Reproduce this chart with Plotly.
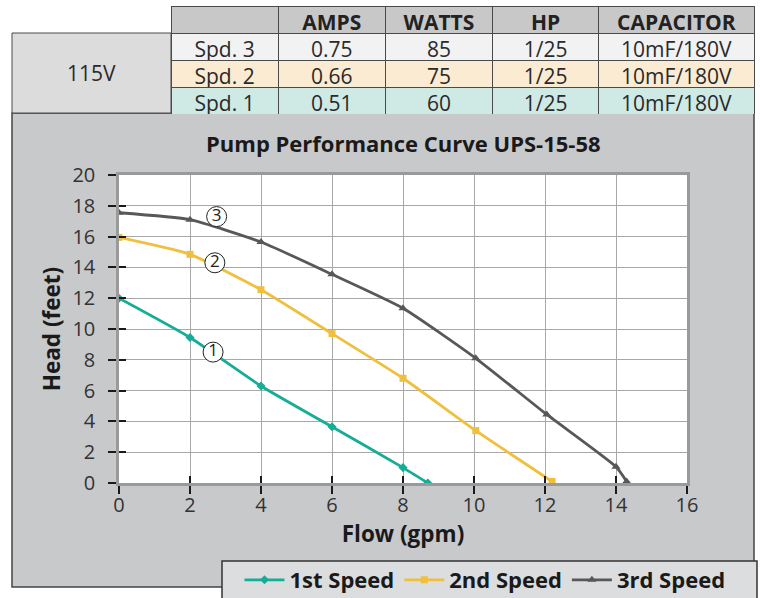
import plotly.graph_objects as go

W, H = 760, 598

# ---- data ----
table_header = ["", "AMPS", "WATTS", "HP", "CAPACITOR"]
speeds = ["Spd. 3", "Spd. 2", "Spd. 1"]
amps = ["0.75", "0.66", "0.51"]
watts = ["85", "75", "60"]
hp = ["1/25", "1/25", "1/25"]
capacitor = ["10mF/180V", "10mF/180V", "10mF/180V"]
voltage = "115V"

flow1 = [0, 2, 4, 6, 8, 8.7]
head1 = [12.0, 9.45, 6.3, 3.65, 1.0, 0.0]
flow2 = [0, 2, 4, 6, 8, 10.05, 12.2]
head2 = [15.95, 14.85, 12.55, 9.7, 6.8, 3.4, 0.1]
flow3 = [0, 2, 4, 6, 8, 10.05, 12.05, 14.0, 14.3]
head3 = [17.55, 17.1, 15.65, 13.55, 11.35, 8.1, 4.45, 1.05, 0.1]

curve_labels = ["1", "2", "3"]
label_x = [2.65, 2.7, 2.75]
label_y = [8.5, 14.3, 17.3]

x_ticks = [0, 2, 4, 6, 8, 10, 12, 14, 16]
y_ticks = [0, 2, 4, 6, 8, 10, 12, 14, 16, 18, 20]

# ---- helpers ----
def px(x):
    return x / W

def py(y):
    return 1 - y / H

FONT = "Open Sans"
c1, c2, c3 = "#16ad96", "#efbf3d", "#58585a"

fig = go.Figure()

fig.add_trace(go.Scatter(x=flow1, y=head1, name="1st Speed", mode="lines+markers",
                         line=dict(color=c1, width=2.8, shape="spline", smoothing=0.5),
                         marker=dict(symbol="diamond", size=7, color=c1)))
fig.add_trace(go.Scatter(x=flow2, y=head2, name="2nd Speed", mode="lines+markers",
                         line=dict(color=c2, width=2.8, shape="spline", smoothing=0.5),
                         marker=dict(symbol="square", size=7, color=c2)))
fig.add_trace(go.Scatter(x=flow3, y=head3, name="3rd Speed", mode="lines+markers",
                         line=dict(color=c3, width=2.8, shape="spline", smoothing=0.5),
                         marker=dict(symbol="triangle-up", size=8, color=c3)))

# circled curve labels, drawn on the overlay axes (which carry the inner tick halves)
fig.add_trace(go.Scatter(x=label_x, y=label_y, text=curve_labels, mode="markers+text",
                         xaxis="x2", yaxis="y2",
                         showlegend=False, hoverinfo="skip",
                         marker=dict(symbol="circle", size=20, color="white",
                                     line=dict(color="#222", width=1)),
                         textposition="middle center",
                         textfont=dict(family=FONT, size=17, color="#222")))

# table
cols = [speeds, amps, watts, hp, capacitor]
row_fill = ["#f2f2f2", "#fcebd3", "#cfe9e5"]
fig.add_trace(go.Table(
    domain=dict(x=[px(171), px(754)], y=[py(114), py(6)]),
    columnwidth=[107, 107, 107, 106, 155],
    header=dict(values=table_header, fill_color="#c8c8c8", height=27,
                line=dict(color="#4a4a4a", width=1), align="center",
                font=dict(family=FONT, size=21, color="#222", weight="bold")),
    cells=dict(values=cols, fill_color=[row_fill] * 5, height=27,
               line=dict(color="#4a4a4a", width=1), align="center",
               font=dict(family=FONT, size=21, color="#2a2a2a")),
))

shapes = [
    dict(type="rect", xref="paper", yref="paper", x0=px(12), x1=px(754), y0=py(587), y1=py(113),
         fillcolor="#c8c9cb", line=dict(color="#444", width=1.5), layer="below"),
    dict(type="rect", xref="paper", yref="paper", x0=px(12), x1=px(171), y0=py(113), y1=py(33),
         fillcolor="#dcdcdd", line=dict(color="#4a4a4a", width=1), layer="below"),
    dict(type="rect", xref="x domain", yref="y domain", x0=0, x1=1, y0=0, y1=1,
         fillcolor="white", line=dict(width=0), layer="below"),
    dict(type="rect", xref="paper", yref="paper", x0=px(222), x1=px(757), y0=py(600), y1=py(561),
         fillcolor="#dcdddf", line=dict(color="#333", width=1.5), layer="below"),
]

annotations = [
    dict(text=voltage, xref="paper", yref="paper", x=px(91), y=py(73), showarrow=False,
         xanchor="center", yanchor="middle",
         font=dict(family=FONT, size=21, color="#2a2a2a")),
    dict(text="Pump Performance Curve UPS-15-58", xref="paper", yref="paper",
         x=px(403), y=py(143), showarrow=False, xanchor="center", yanchor="middle",
         font=dict(family=FONT, size=22, color="#1a1a1a", weight="bold")),
]

axis_common = dict(showgrid=True, gridcolor="#a8a8a8", gridwidth=1, zeroline=False,
                   showline=True, linecolor="#9a9a9a", linewidth=2.5, mirror=True,
                   ticks="outside", ticklen=8, tickwidth=2, tickcolor="#1a1a1a",
                   automargin=False,
                   tickfont=dict(family=FONT, size=20, color="#333"))

fig.update_layout(
    width=W, height=H,
    margin=dict(l=0, r=0, t=0, b=0, autoexpand=False),
    paper_bgcolor="white", plot_bgcolor="white",
    shapes=shapes, annotations=annotations,
    xaxis=dict(domain=[px(119), px(687)], range=[0, 16], tickvals=x_ticks,
               ticklabelstandoff=-6,
               title=dict(text="Flow (gpm)", standoff=8,
                          font=dict(family=FONT, size=22.5, color="#1a1a1a", weight="bold")),
               **axis_common),
    yaxis=dict(domain=[py(483), py(175)], range=[0, 20], tickvals=y_ticks,
               ticklabelstandoff=9,
               title=dict(text="Head (feet)", standoff=6,
                          font=dict(family=FONT, size=22.5, color="#1a1a1a", weight="bold")),
               **axis_common),
    xaxis2=dict(overlaying="x", range=[0, 16], tickvals=x_ticks, showgrid=False,
                showticklabels=False, ticks="inside", ticklen=7, tickwidth=2,
                tickcolor="#1a1a1a", showline=False, zeroline=False, anchor="y2",
                side="bottom", automargin=False),
    yaxis2=dict(overlaying="y", range=[0, 20], tickvals=y_ticks, showgrid=False,
                showticklabels=False, ticks="inside", ticklen=7, tickwidth=2,
                tickcolor="#1a1a1a", showline=False, zeroline=False, anchor="x2",
                side="left", automargin=False),
    legend=dict(orientation="h", x=px(485), xanchor="center", y=py(580), yanchor="middle",
                bgcolor="rgba(0,0,0,0)", itemwidth=40,
                font=dict(family=FONT, size=22, color="#1a1a1a", weight="bold")),
)

fig.write_html("out.html", config={"displayModeBar": False},
               post_script="document.body.style.margin='0px';")
